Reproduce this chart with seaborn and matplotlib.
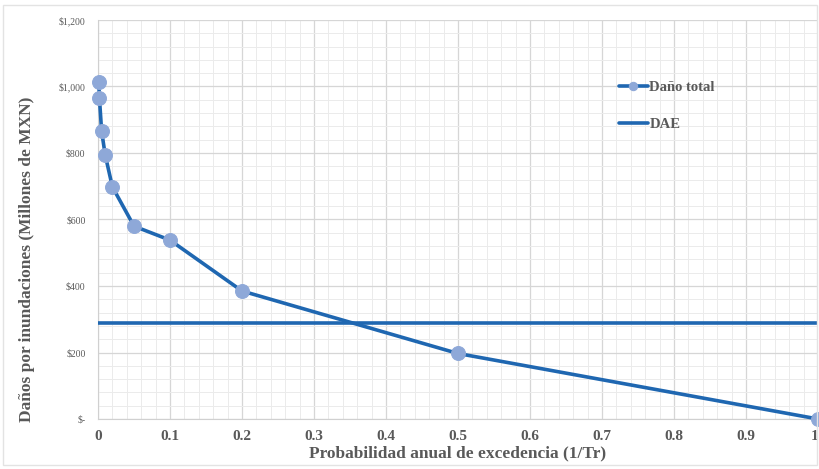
import pandas as pd
import matplotlib.pyplot as plt
import seaborn as sns
from matplotlib.ticker import MultipleLocator, FuncFormatter
from matplotlib.patches import Rectangle

# datos
probabilidad = [0.001, 0.002, 0.005, 0.01, 0.02, 0.05, 0.1, 0.2, 0.5, 1.0]
dano_total = [1015, 965, 866, 794, 698, 580, 538, 385, 197, 0]
dae = 289
xticks = [0, 0.1, 0.2, 0.3, 0.4, 0.5, 0.6, 0.7, 0.8, 0.9, 1]
xtick_labels = ['0', '0.1', '0.2', '0.3', '0.4', '0.5', '0.6', '0.7', '0.8', '0.9', '1']

df = pd.DataFrame({'prob': probabilidad, 'dano': dano_total})

sns.set_style('white')
plt.rcParams['font.family'] = ['Liberation Serif', 'DejaVu Serif']

azul = '#1f67b1'
marcador = '#8ea8d8'
gris = '#595959'

fig = plt.figure(figsize=(8.2, 4.69), dpi=100)
ax = fig.add_axes([98 / 820, 50 / 469, 720 / 820, 399 / 469])

sns.lineplot(data=df, x='prob', y='dano', ax=ax, color=azul, linewidth=2.6,
             marker='o', markersize=10, markerfacecolor=marcador,
             markeredgecolor=marcador, clip_on=False, zorder=4,
             label='Daño total')
ax.axhline(dae, color=azul, linewidth=2.6, zorder=3, label='DAE')

ax.set_xlim(0, 1)
ax.set_ylim(0, 1200)
ax.set_xticks(xticks, xtick_labels)
ax.xaxis.set_minor_locator(MultipleLocator(0.02))
ax.yaxis.set_major_locator(MultipleLocator(200))
ax.yaxis.set_minor_locator(MultipleLocator(40))
ax.grid(True, which='major', color='#d6d6d6', linewidth=0.9)
ax.grid(True, which='minor', color='#ebebeb', linewidth=0.7)
ax.set_axisbelow(True)

ax.yaxis.set_major_formatter(FuncFormatter(lambda v, p: '$-' if v == 0 else f'${v:,.0f}'))
ax.tick_params(axis='x', which='major', labelsize=11, colors=gris, length=0, pad=8)
ax.tick_params(axis='y', which='major', labelsize=7, colors=gris, length=0, pad=9)
ax.tick_params(which='minor', length=0)
xlabs = ax.get_xticklabels()
for lab in xlabs:
    lab.set_fontweight('bold')
xlabs[-1].set_horizontalalignment('right')

for lado in ['top', 'right']:
    ax.spines[lado].set_visible(False)
ax.spines['left'].set_color('#d0d0d0')
ax.spines['bottom'].set_color('#d0d0d0')

ax.set_xlabel('Probabilidad anual de excedencia (1/Tr)', fontsize=12.5,
              fontweight='bold', color=gris, labelpad=2)
ax.set_ylabel('Daños por inundaciones (Millones de MXN)', fontsize=12.5,
              fontweight='bold', color=gris)
ax.yaxis.set_label_coords(-0.088, 0.40)

leg = ax.legend(loc='upper left', bbox_to_anchor=(0.705, 0.88), frameon=False,
                fontsize=10.5, handlelength=2.0, handletextpad=0.1,
                labelspacing=1.6)
for t in leg.get_texts():
    t.set_color(gris)
    t.set_fontweight('bold')
for h in leg.legend_handles:
    h.set_markersize(6)

fig.patches.append(Rectangle((3 / 820, 4 / 469), 814 / 820, 460 / 469,
                             transform=fig.transFigure, fill=False,
                             edgecolor='#e3e3e3', linewidth=1))

plt.savefig('out.png')
plt.close()
